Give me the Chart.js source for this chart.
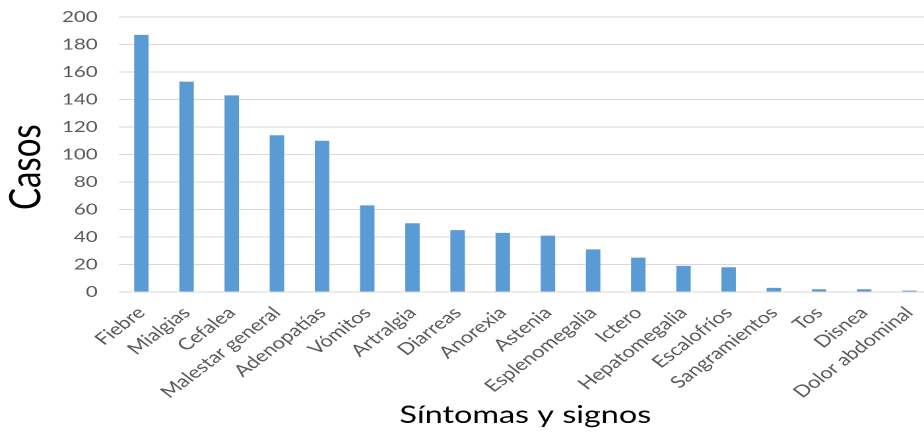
<!DOCTYPE html>
<html lang="es">
<head>
<meta charset="utf-8">
<script src="https://cdn.jsdelivr.net/npm/chart.js@4/dist/chart.umd.min.js"></script>
<style>
  html, body { margin: 0; padding: 0; background: #fff; overflow: hidden; width: 924px; height: 432px; }
  /* the chart is laid out narrow and widened horizontally */
  #wrap { position: absolute; left: 0; top: 0; width: 710px; height: 432px; transform: scaleX(1.32); transform-origin: 0 0; }
</style>
</head>
<body>
<div id="wrap"><canvas id="chart" width="710" height="432"></canvas></div>
<script>
const categories = [
  'Fiebre', 'Mialgias', 'Cefalea', 'Malestar general', 'Adenopatías', 'Vómitos',
  'Artralgia', 'Diarreas', 'Anorexia', 'Astenia', 'Esplenomegalia', 'Ictero',
  'Hepatomegalia', 'Escalofríos', 'Sangramientos', 'Tos', 'Disnea', 'Dolor abdominal'
];
const casos = [187, 153, 143, 114, 110, 63, 50, 45, 43, 41, 31, 25, 19, 18, 3, 2, 2, 1];
const yTickValues = [0, 20, 40, 60, 80, 100, 120, 140, 160, 180, 200];

const FONT = 'Lato, "Open Sans", sans-serif';

new Chart(document.getElementById('chart'), {
  type: 'bar',
  data: {
    labels: categories,
    datasets: [{
      label: 'Casos',
      data: casos,
      backgroundColor: '#5B9BD5',
      borderWidth: 0,
      barPercentage: 0.32,
      categoryPercentage: 1
    }]
  },
  options: {
    responsive: false,
    devicePixelRatio: 2,
    animation: false,
    layout: { padding: { top: 17, right: 4, bottom: 0, left: 0 } },
    plugins: { legend: { display: false }, tooltip: { enabled: false } },
    scales: {
      x: {
        grid: { display: false },
        border: { display: false },
        ticks: {
          autoSkip: false,
          maxRotation: 45,
          minRotation: 45,
          padding: 3,
          color: '#595959',
          font: { family: FONT, size: 16.5 }
        },
        title: {
          display: true,
          text: 'Síntomas y signos',
          color: '#000',
          font: { family: FONT, size: 24.5 },
          padding: { top: 0, bottom: 2 }
        },
        afterFit(scale) { scale.height = 140; }
      },
      y: {
        min: 0,
        max: 200,
        afterBuildTicks(scale) { scale.ticks = yTickValues.map(v => ({ value: v })); },
        grid: { color: '#D9D9D9', lineWidth: 1, drawTicks: false },
        border: { display: false },
        ticks: {
          padding: 16,
          color: '#595959',
          font: { family: FONT, size: 15.5 }
        },
        title: {
          display: true,
          // trailing spaces push the rotated word slightly below the axis middle
          text: 'Casos   ',
          color: '#000',
          font: { family: FONT, size: 33 },
          padding: 0
        },
        afterFit(scale) {
          scale.width = 90;
          // the label gap only applies sideways, not above the top tick
          scale.paddingTop = 9;
        }
      }
    }
  }
});
</script>
</body>
</html>
